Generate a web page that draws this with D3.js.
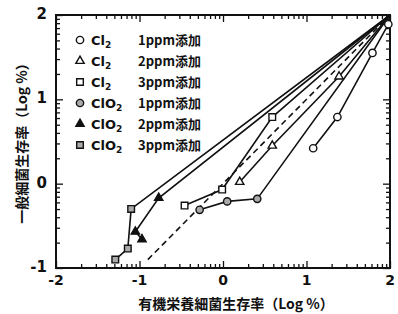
<!DOCTYPE html>
<html>
<head>
<meta charset="utf-8">
<script src="https://cdn.jsdelivr.net/npm/d3@7"></script>
<style>
  body { margin: 0; background: #fff; }
  text { font-family: "Noto Sans CJK JP", "DejaVu Sans", sans-serif; fill: #111; }
</style>
</head>
<body>
<div class="chart"></div>
<script>
var w = 398,
    h = 314;

// data (log % values)
var origin = [2, 2];
var cl2_1 = [[1.08, 0.42], [1.37, 0.79], [1.79, 1.55], [1.98, 1.89]];
var cl2_2 = [[0.20, 0.02], [0.59, 0.45], [1.39, 1.27]];
var cl2_3 = [[-0.46, -0.26], [-0.01, -0.07], [0.59, 0.79]];
var clo2_1 = [[-0.28, -0.31], [0.05, -0.21], [0.41, -0.18]];
var clo2_2 = [[-0.97, -0.66], [-1.05, -0.57], [-0.77, -0.17]];
var clo2_3 = [[-1.29, -0.90], [-1.14, -0.77], [-1.10, -0.30]];
var refLine = [[-0.9, -0.9], [2, 2]];

var xTicks = [-2, -1, 0, 1, 2];
var yTicks = [-1, 0, 1, 2];

var seriesNames = ["Cl", "Cl", "Cl", "ClO", "ClO", "ClO"];
var doseLabels = ["1ppm添加", "2ppm添加", "3ppm添加", "1ppm添加", "2ppm添加", "3ppm添加"];
var symbols = ["circle", "triangle", "square", "circle", "triangle", "square"];
var fills = ["#fff", "#fff", "#fff", "#aaa", "#111", "#aaa"];
var allSeries = [cl2_1, cl2_2, cl2_3, clo2_1, clo2_2, clo2_3];

var x = d3.scaleLinear().domain([-2, 2]).range([56, 390]);
var y = d3.scaleLinear().domain([-1, 2]).range([268, 15]);

var svg = d3.select(".chart")
    .append("svg")
    .attr("width", w)
    .attr("height", h);

// log-style minor ticks inside each decade
function minorTicks(dom) {
    var out = [];
    for (var d = dom[0]; d < dom[1]; d++) {
        for (var k = 2; k <= 9; k++) out.push(d + Math.log10(k));
    }
    return out;
}

function drawAxis(axisFn, scale, vals, size, tx, ty) {
    var g = svg.append("g")
        .attr("transform", "translate(" + tx + "," + ty + ")")
        .call(axisFn(scale).tickValues(vals).tickSize(size).tickFormat(""));
    g.select(".domain").remove();
    g.selectAll("line").attr("stroke", "#111").attr("stroke-width", 1.3);
}

var xMin = minorTicks(x.domain()), yMin = minorTicks(y.domain());
drawAxis(d3.axisBottom, x, xTicks, -7, 0, 268);
drawAxis(d3.axisBottom, x, xMin, -4, 0, 268);
drawAxis(d3.axisTop, x, xTicks, -7, 0, 15);
drawAxis(d3.axisTop, x, xMin, -4, 0, 15);
drawAxis(d3.axisLeft, y, yTicks, -7, 56, 0);
drawAxis(d3.axisLeft, y, yMin, -4, 56, 0);
drawAxis(d3.axisRight, y, yTicks, -7, 390, 0);
drawAxis(d3.axisRight, y, yMin, -4, 390, 0);

svg.append("rect")
    .attr("x", 56).attr("y", 15)
    .attr("width", 334).attr("height", 253)
    .attr("fill", "none")
    .attr("stroke", "#111")
    .attr("stroke-width", 2);

// tick labels
svg.selectAll(".xl").data(xTicks).enter().append("text")
    .attr("x", function (d) { return x(d); })
    .attr("y", 285)
    .attr("text-anchor", "middle")
    .style("font-size", "14px")
    .style("font-weight", "bold")
    .style("font-family", "'DejaVu Sans'")
    .text(function (d) { return d < 0 ? "-" + Math.abs(d) : d; });

svg.selectAll(".yl").data(yTicks).enter().append("text")
    .attr("x", 47)
    .attr("y", function (d) { return y(d) + 4; })
    .attr("text-anchor", "end")
    .style("font-size", "15px")
    .style("font-weight", "bold")
    .style("font-family", "'DejaVu Sans'")
    .text(function (d) { return d < 0 ? "-" + Math.abs(d) : d; });

// axis titles
svg.append("text")
    .attr("x", 236).attr("y", 309)
    .attr("text-anchor", "middle")
    .style("font-size", "14px")
    .style("font-weight", "bold")
    .text("有機栄養細菌生存率（Log %）");

svg.append("text")
    .attr("transform", "translate(27,140) rotate(-90)")
    .attr("text-anchor", "middle")
    .style("font-size", "14px")
    .style("font-weight", "bold")
    .text("一般細菌生存率（Log %）");

var line = d3.line()
    .x(function (d) { return x(d[0]); })
    .y(function (d) { return y(d[1]); });

svg.append("path")
    .attr("d", line(refLine))
    .attr("fill", "none")
    .attr("stroke", "#111")
    .attr("stroke-width", 1.6)
    .attr("stroke-dasharray", "6,4");

allSeries.forEach(function (s) {
    svg.append("path")
        .attr("d", line(s.concat([origin])))
        .attr("fill", "none")
        .attr("stroke", "#111")
        .attr("stroke-width", 1.6);
});

var symType = {
    circle: d3.symbolCircle,
    triangle: d3.symbolTriangle,
    square: d3.symbolSquare
};
var symSize = { circle: 42, triangle: 30, square: 44 };

function marker(g, i, px, py) {
    g.append("path")
        .attr("d", d3.symbol().type(symType[symbols[i]]).size(symSize[symbols[i]])())
        .attr("transform", "translate(" + px + "," + py + ")")
        .attr("fill", fills[i])
        .attr("stroke", "#111")
        .attr("stroke-width", 1.4);
}

allSeries.forEach(function (s, i) {
    s.forEach(function (p) { marker(svg, i, x(p[0]), y(p[1])); });
});

// legend
var leg = svg.append("g");
doseLabels.forEach(function (lab, i) {
    var ly = 40 + i * 21;
    marker(leg, i, 80, ly);
    var t = leg.append("text")
        .attr("x", 91).attr("y", ly + 5)
        .style("font-size", "13px")
        .style("font-weight", "bold")
        .style("font-family", "'DejaVu Sans'");
    t.append("tspan").text(seriesNames[i]);
    t.append("tspan").attr("dy", 3).style("font-size", "9px").text("2");
    leg.append("text")
        .attr("x", 138).attr("y", ly + 5)
        .style("font-size", "13px")
        .style("font-weight", "bold")
        .text(lab);
});
</script>
</body>
</html>
